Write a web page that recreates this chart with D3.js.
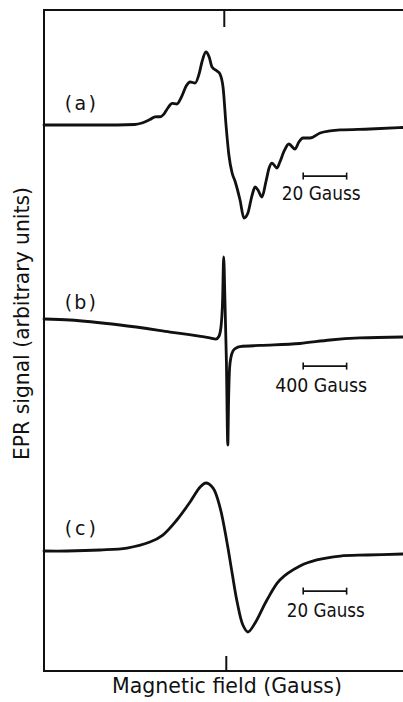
<!DOCTYPE html>
<html>
<head>
<meta charset="utf-8">
<script src="https://cdn.jsdelivr.net/npm/d3@7"></script>
<style>
  body { margin: 0; background: #fff; }
  svg text { font-family: "DejaVu Sans", sans-serif; fill: #111; }
  .frame { stroke: #111; stroke-width: 2; fill: none; }
  .trace { stroke: #111; stroke-width: 2.8; fill: none; stroke-linejoin: round; stroke-linecap: round; }
  .bar { stroke: #111; stroke-width: 1.6; }
</style>
</head>
<body>
<div id="wrapper"></div>
<script>
// field in arbitrary units (0-100 across the frame), signal normalised to the positive peak
const fieldA = [0, 15.6, 25.3, 27.3, 29.5, 30.9, 32.6, 33.4, 34.5, 35.7, 37.0, 38.4, 39.6, 40.7, 42.1, 43.2, 44.0, 45.1, 46.0, 46.8, 48.2, 49.0, 49.9, 50.7, 51.5, 52.4, 53.2, 54.6, 55.7, 56.8, 57.9, 58.8, 59.6, 60.7, 61.8, 62.7, 63.5, 64.9, 65.7, 66.9, 68.2, 69.9, 71.0, 72.1, 74.1, 76.9, 79.7, 82.5, 90.8, 100]
const signalA = [0, 0, 0.007, 0.027, 0.075, 0.11, 0.116, 0.15, 0.233, 0.295, 0.288, 0.397, 0.534, 0.589, 0.575, 0.699, 0.863, 1.0, 0.932, 0.795, 0.74, 0.699, 0.507, 0, -0.411, -0.658, -0.767, -1.027, -1.274, -1.205, -0.973, -0.849, -0.89, -0.986, -0.781, -0.589, -0.521, -0.589, -0.507, -0.356, -0.26, -0.329, -0.233, -0.178, -0.178, -0.11, -0.082, -0.068, -0.055, -0.034]

const fieldB = [0, 7.2, 21.2, 35.1, 46.2, 47.9, 48.7, 49.30, 49.75, 50.05, 50.40, 50.80, 51.20, 51.42, 51.70, 52.09, 52.65, 53.48, 54.60, 60.2, 71.3, 79.7, 88.0, 100]
const signalB = [0, -0.016, -0.097, -0.21, -0.306, -0.323, -0.282, -0.129, 0.306, 1.0, 0.306, -0.661, -2.032, -1.306, -0.79, -0.613, -0.516, -0.468, -0.444, -0.427, -0.395, -0.339, -0.306, -0.29]

const fieldC = [0, 6.4, 15.6, 23.1, 29.5, 33.1, 37.0, 40.7, 43.5, 45.1, 47.1, 49.0, 51.0, 52.4, 53.8, 55.4, 56.8, 58.8, 62.1, 65.7, 71.3, 76.0, 82.5, 90.0, 100]
const signalC = [0, 0, 0.015, 0.044, 0.132, 0.235, 0.456, 0.721, 0.941, 1.0, 0.926, 0.647, 0.118, -0.324, -0.75, -1.088, -1.191, -1.059, -0.721, -0.426, -0.221, -0.132, -0.074, -0.059, -0.044]

const panelLabels = ["(a)", "(b)", "(c)"]
const scaleLabels = ["20 Gauss", "400 Gauss", "20 Gauss"]
const scaleBarField = [72.2, 84.3]
const centreField = 50.5

// layout
const width = 403
const height = 702
const frame = { left: 44, right: 403, top: 10, bottom: 671 }

// per panel: baseline y and pixels per signal unit
const panels = [
  { field: fieldA, signal: signalA, base: 125, unit: 73, barY: -0.70, textY: -1.03, textX: 77.2, textW: 79, labelY: 0.2, curve: d3.curveMonotoneX },
  { field: fieldB, signal: signalB, base: 319, unit: 62, barY: -0.76, textY: -1.18, textX: 77.2, textW: 92, labelY: 0.16, curve: d3.curveMonotoneX },
  { field: fieldC, signal: signalC, base: 551, unit: 68, barY: -0.59, textY: -0.97, textX: 78.5, textW: 78, labelY: 0.24, curve: d3.curveCatmullRom.alpha(0.5) },
]

const svg = d3.select("#wrapper").append("svg")
    .attr("width", width)
    .attr("height", height)

const x = d3.scaleLinear()
    .domain([0, 100])
    .range([frame.left, frame.right])

// frame
svg.append("path")
    .attr("class", "frame")
    .attr("d", `M${frame.right},${frame.top}H${frame.left}V${frame.bottom}H${frame.right}`)
svg.append("line").attr("class", "frame")
    .attr("x1", x(centreField) - 1).attr("x2", x(centreField) - 1)
    .attr("y1", frame.top).attr("y2", frame.top + 17)
svg.append("line").attr("class", "frame")
    .attr("x1", x(centreField) + 1).attr("x2", x(centreField) + 1)
    .attr("y1", frame.bottom - 15).attr("y2", frame.bottom)

panels.forEach((p, i) => {
  const y = d3.scaleLinear()
      .domain([0, 1])
      .range([p.base, p.base - p.unit])

  const line = d3.line()
      .x((d, j) => x(p.field[j]))
      .y(d => y(d))
      .curve(p.curve)

  svg.append("path")
      .attr("class", "trace")
      .datum(p.signal)
      .attr("d", line)

  svg.append("text")
      .attr("x", x(5.8))
      .attr("y", y(p.labelY))
      .attr("font-size", 19)
      .attr("textLength", 31)
      .attr("lengthAdjust", "spacing")
      .text(panelLabels[i])

  // scale bar
  const g = svg.append("g")
  g.append("line").attr("class", "bar")
      .attr("x1", x(scaleBarField[0])).attr("x2", x(scaleBarField[1]))
      .attr("y1", y(p.barY)).attr("y2", y(p.barY))
  scaleBarField.forEach(f => {
    g.append("line").attr("class", "bar")
        .attr("x1", x(f)).attr("x2", x(f))
        .attr("y1", y(p.barY) - 3.5).attr("y2", y(p.barY) + 3.5)
  })
  g.append("text")
      .attr("x", x(p.textX) - p.textW / 2)
      .attr("y", y(p.textY))
      .attr("font-size", 19)
      .attr("textLength", p.textW)
      .attr("lengthAdjust", "spacingAndGlyphs")
      .text(scaleLabels[i])
})

// axis titles
svg.append("text")
    .attr("x", 112)
    .attr("y", 693)
    .attr("font-size", 20.5)
    .attr("textLength", 230)
    .attr("lengthAdjust", "spacingAndGlyphs")
    .text("Magnetic field (Gauss)")

svg.append("text")
    .attr("transform", "translate(29, 460) rotate(-90)")
    .attr("font-size", 20.5)
    .attr("textLength", 273)
    .attr("lengthAdjust", "spacingAndGlyphs")
    .text("EPR signal (arbitrary units)")
</script>
</body>
</html>
